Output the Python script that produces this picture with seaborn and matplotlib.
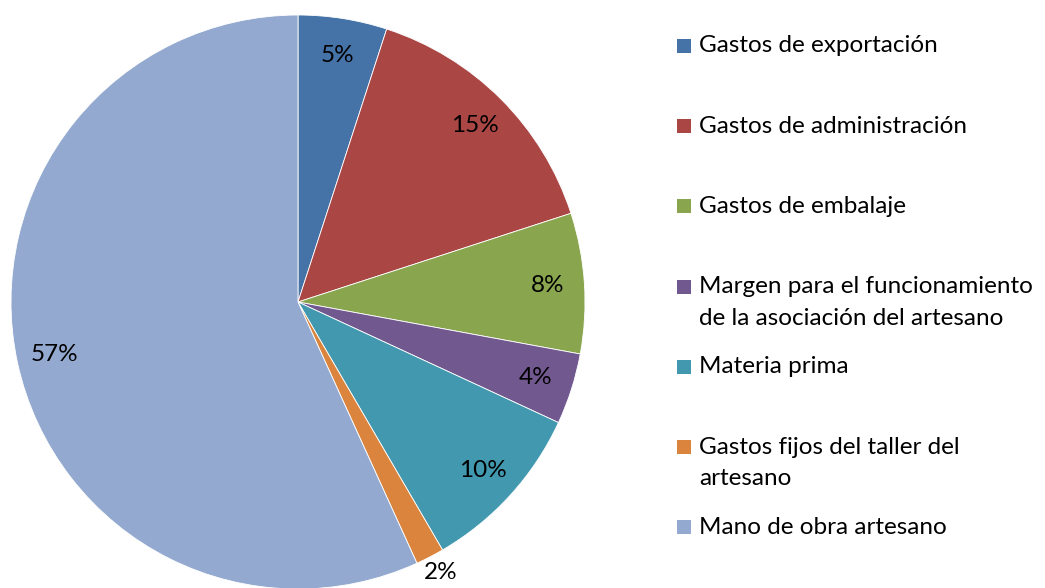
import numpy as np
import seaborn as sns
import matplotlib.pyplot as plt
from matplotlib.patches import Rectangle

# Cost structure of the artisan product (shares in %)
categories = [
    "Gastos de exportación",
    "Gastos de administración",
    "Gastos de embalaje",
    "Margen para el funcionamiento\nde la asociación del artesano",
    "Materia prima",
    "Gastos fijos del taller del\nartesano",
    "Mano de obra artesano",
]
shares = [5.0, 15.0, 7.9, 4.0, 9.7, 1.6, 56.8]
colors = ["#4572A7", "#AA4643", "#89A54E", "#71588F", "#4198AF", "#DB843D", "#93A9CF"]

sns.set_theme(style = "white")
plt.rcParams["font.family"] = ["Lato", "DejaVu Sans"]
palette = sns.color_palette(colors)
fs = 17.5

W, H = 1045, 588
fig = plt.figure(figsize = (W / 100, H / 100), dpi = 100)

# pie: centre (298, 302), radius 287 px
cx, cy, r = 298, 302, 287
ax = fig.add_axes([(cx - r) / W, (H - cy - r) / H, 2 * r / W, 2 * r / H])
wedges, texts, autotexts = ax.pie(
    shares,
    colors = palette,
    startangle = 90,
    counterclock = False,
    autopct = "%.0f%%",
    pctdistance = 0.87,
    wedgeprops = dict(linewidth = 0.6, edgecolor = "white"),
    textprops = dict(fontsize = fs, color = "black"),
)
ax.set_xlim(-1, 1)
ax.set_ylim(-1, 1)
ax.set_aspect("equal")

# tiny slices get their label pushed outside
for share, t in zip(shares, autotexts):
    if share < 3:
        x, y = t.get_position()
        t.set_position((x * 1.08 / 0.87, y * 1.06 / 0.87))

# legend, Excel style: one slot per entry, extra lines run downward
y0, step, line_h = 46, 80.2, 31.5
for i, (label, col) in enumerate(zip(categories, palette)):
    yc = y0 + i * step
    fig.patches.append(Rectangle((677 / W, 1 - (yc + 7) / H), 14 / W, 14 / H,
                                 transform = fig.transFigure, facecolor = col,
                                 edgecolor = "none"))
    for k, line in enumerate(label.split("\n")):
        fig.text(699 / W, 1 - (yc + k * line_h) / H, line, fontsize = fs,
                 va = "center", ha = "left", color = "black")

fig.savefig("out.png", dpi = 100)
